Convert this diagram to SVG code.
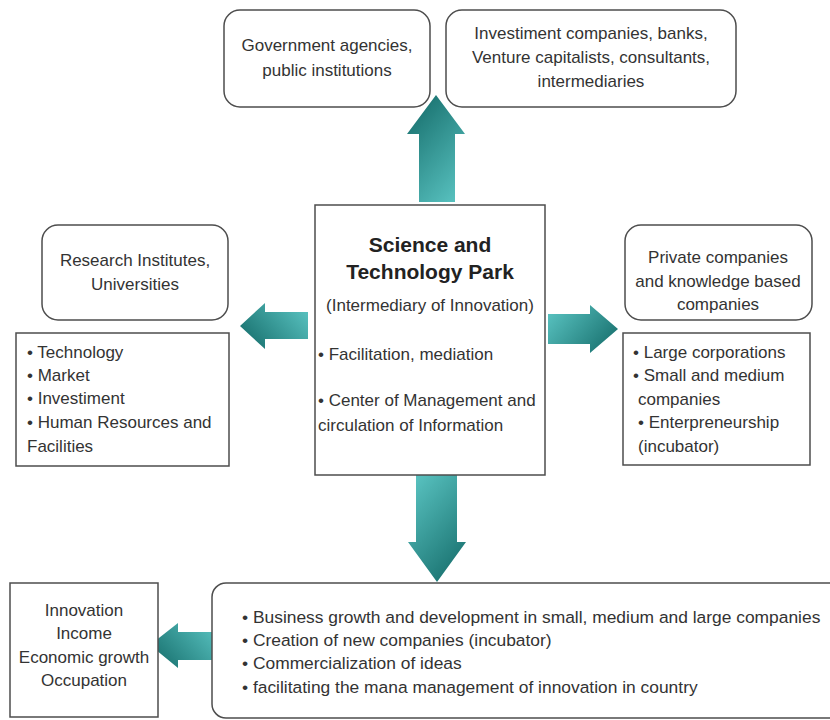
<svg xmlns="http://www.w3.org/2000/svg" width="830" height="720" viewBox="0 0 830 720">
  <defs>
    <!-- teal arrow fills: dark at the tip, light at the tail -->
    <linearGradient id="gUp" x1="0.2" y1="0" x2="0.8" y2="1">
      <stop offset="0" stop-color="#176f6d"/>
      <stop offset="1" stop-color="#57c0be"/>
    </linearGradient>
    <linearGradient id="gDown" x1="0.2" y1="0" x2="0.8" y2="1">
      <stop offset="0" stop-color="#57c0be"/>
      <stop offset="1" stop-color="#176f6d"/>
    </linearGradient>
    <linearGradient id="gLeft" x1="0" y1="0.8" x2="1" y2="0.2">
      <stop offset="0" stop-color="#176f6d"/>
      <stop offset="1" stop-color="#57c0be"/>
    </linearGradient>
    <linearGradient id="gRight" x1="0" y1="0.2" x2="1" y2="0.8">
      <stop offset="0" stop-color="#57c0be"/>
      <stop offset="1" stop-color="#176f6d"/>
    </linearGradient>
    <style>
      .box { fill: #ffffff; stroke: #4d4d4d; stroke-width: 1.5; }
      .t { font-family: "Liberation Sans", Arial, sans-serif; font-size: 17px; fill: #333333; }
      .c { text-anchor: middle; }
      .b { font-weight: bold; font-size: 21px; fill: #222222; }
      .w { font-size: 17.4px; }
      .arrow { stroke: none; }
    </style>
  </defs>

  <rect width="830" height="720" fill="#ffffff"/>

  <!-- flow arrows out of the park -->
  <g id="connectors">
    <path class="arrow" fill="url(#gUp)" d="M436,95 L465,134 L455,134 L455,202 L419,202 L419,134 L407,134 Z"/>
    <path class="arrow" fill="url(#gLeft)" d="M240,326 L265,303 L265,312 L308,312 L308,339 L265,339 L265,349 Z"/>
    <path class="arrow" fill="url(#gRight)" d="M548,314 L590,314 L590,305 L618,329 L590,353 L590,344 L548,344 Z"/>
    <path class="arrow" fill="url(#gDown)" d="M416,475 L457,475 L457,542 L466,542 L437,582 L408,542 L416,542 Z"/>
    <path class="arrow" fill="url(#gLeft)" d="M150,645 L178,623 L178,632 L219,632 L219,660 L178,660 L178,668 Z"/>
  </g>

  <g id="government">
    <rect class="box" x="224" y="10" width="206" height="97" rx="16"/>
    <text class="t c" x="327" y="51">Government agencies,</text>
    <text class="t c" x="327" y="76">public institutions</text>
  </g>

  <g id="investment">
    <rect class="box" x="446" y="10" width="290" height="97" rx="16"/>
    <text class="t c" x="591" y="39">Investiment companies, banks,</text>
    <text class="t c" x="591" y="63">Venture capitalists, consultants,</text>
    <text class="t c" x="591" y="87">intermediaries</text>
  </g>

  <g id="research">
    <rect class="box" x="42" y="225" width="186" height="95" rx="16"/>
    <text class="t c" x="135" y="266">Research Institutes,</text>
    <text class="t c" x="135" y="290">Universities</text>
  </g>

  <g id="research-list">
    <rect class="box" x="16" y="333" width="213" height="133"/>
    <text class="t" x="27" y="358">• Technology</text>
    <text class="t" x="27" y="381">• Market</text>
    <text class="t" x="27" y="404">• Investiment</text>
    <text class="t" x="27" y="428">• Human Resources and</text>
    <text class="t" x="27" y="452">Facilities</text>
  </g>

  <g id="park">
    <rect class="box" x="315" y="205" width="230" height="270"/>
    <text class="t c b" x="430" y="252">Science and</text>
    <text class="t c b" x="430" y="279">Technology Park</text>
    <text class="t c" x="430" y="311">(Intermediary of Innovation)</text>
    <text class="t" x="318" y="360">• Facilitation, mediation</text>
    <text class="t" x="318" y="406">• Center of Management and</text>
    <text class="t" x="318" y="431">circulation of Information</text>
  </g>

  <g id="private">
    <rect class="box" x="625" y="225" width="187" height="95" rx="16"/>
    <text class="t c" x="718" y="263">Private companies</text>
    <text class="t c" x="718" y="287">and knowledge based</text>
    <text class="t c" x="718" y="310">companies</text>
  </g>

  <g id="private-list">
    <rect class="box" x="623" y="333" width="187" height="132"/>
    <text class="t" x="633" y="358">• Large corporations</text>
    <text class="t" x="633" y="381">• Small and medium</text>
    <text class="t" x="638" y="405">companies</text>
    <text class="t" x="638" y="428">• Enterpreneurship</text>
    <text class="t" x="638" y="452">(incubator)</text>
  </g>

  <g id="activities">
    <rect class="box" x="212" y="583" width="650" height="135" rx="14"/>
    <text class="t w" x="242" y="623">• Business growth and development in small, medium and large companies</text>
    <text class="t w" x="242" y="646">• Creation of new companies (incubator)</text>
    <text class="t w" x="242" y="669">• Commercialization of ideas</text>
    <text class="t w" x="242" y="693">• facilitating the mana management of innovation in country</text>
  </g>

  <g id="outcomes">
    <rect class="box" x="10" y="583" width="148" height="134"/>
    <text class="t c" x="84" y="616">Innovation</text>
    <text class="t c" x="84" y="639">Income</text>
    <text class="t c" x="84" y="663">Economic growth</text>
    <text class="t c" x="84" y="686">Occupation</text>
  </g>
</svg>
